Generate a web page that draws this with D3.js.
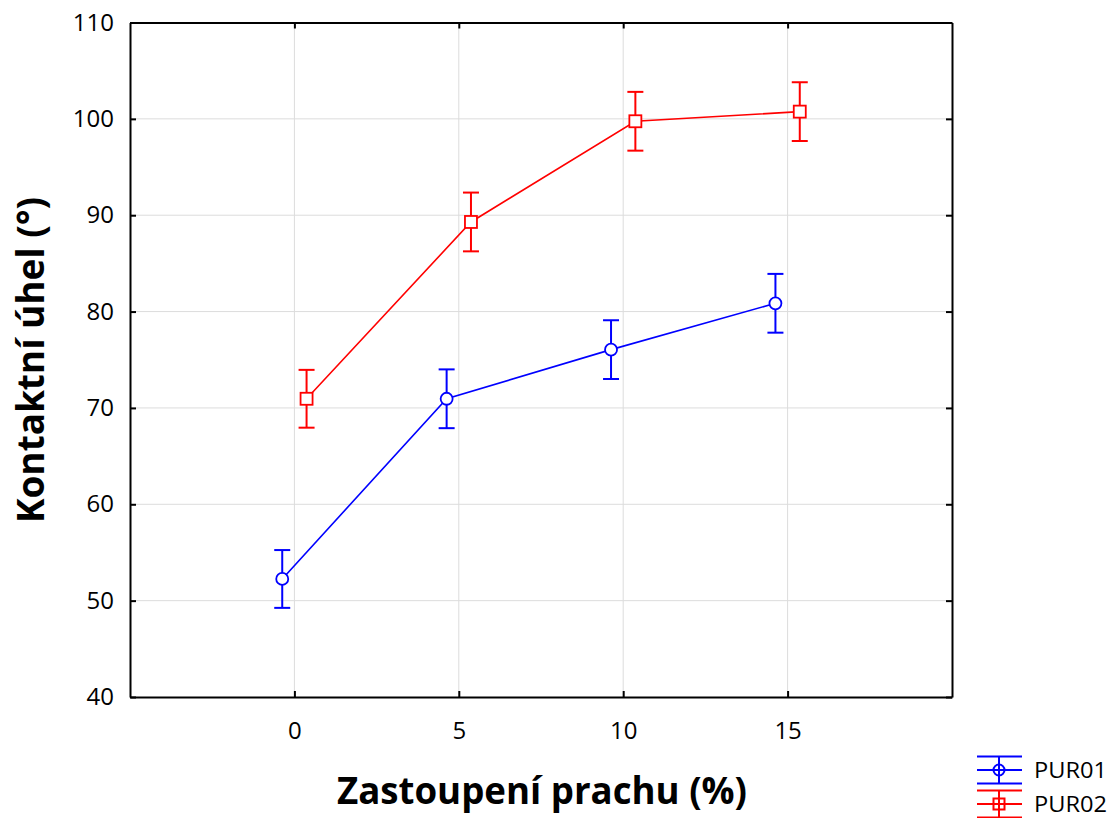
<!DOCTYPE html>
<html><head><meta charset="utf-8">
<script src="https://cdn.jsdelivr.net/npm/d3@7"></script>
<style>body{margin:0;background:#fff}svg{display:block}text{font-family:"Open Sans",sans-serif}</style>
</head><body><svg id="c" width="1114" height="818"></svg>
<script>
const xTicks = [0, 5, 10, 15];
const yTicks = [40, 50, 60, 70, 80, 90, 100, 110];
const dust = [0, 5, 10, 15];
const seriesNames = ["PUR01", "PUR02"];
const seriesColors = ["#0000ff", "#ff0000"];
const pur01Mean = [52.25, 70.95, 76.05, 80.86];
const pur01Err = [3.0, 3.05, 3.05, 3.05];
const pur02Mean = [70.95, 89.3, 99.75, 100.75];
const pur02Err = [3.0, 3.05, 3.05, 3.05];
const offsets = [-0.37, 0.37];

const svg = d3.select("#c");
const L = 130, R = 952, T = 22.5, B = 697;
const x = d3.scaleLinear().domain([-5, 20]).range([L, R]);
const y = d3.scaleLinear().domain([40, 110]).range([B, T]);

// grid
const g = svg.append("g");
g.selectAll(".gx").data(xTicks).join("line")
  .attr("x1", d => x(d)).attr("x2", d => x(d)).attr("y1", T).attr("y2", B)
  .attr("stroke", "#dcdcdc").attr("stroke-width", 1);
g.selectAll(".gy").data(yTicks.slice(1, -1)).join("line")
  .attr("y1", d => y(d)).attr("y2", d => y(d)).attr("x1", L).attr("x2", R)
  .attr("stroke", "#dcdcdc").attr("stroke-width", 1);

// axes
const ax = (axis, tr) => {
  const a = svg.append("g").attr("transform", tr).call(axis);
  a.attr("font-size", 24).attr("font-family", "'Open Sans',sans-serif");
  a.select(".domain").attr("stroke", "#000").attr("stroke-width", 2);
  a.selectAll(".tick line").attr("stroke", "#000").attr("stroke-width", 2);
  a.selectAll("text").attr("fill", "#000");
  return a;
};
ax(d3.axisBottom(x).tickValues(xTicks).tickSizeInner(-6).tickSizeOuter(0).tickPadding(25), `translate(0,${B})`);
ax(d3.axisTop(x).tickValues(xTicks).tickSizeInner(-6).tickSizeOuter(0).tickFormat(""), `translate(0,${T})`);
ax(d3.axisLeft(y).tickValues(yTicks).tickSizeInner(-6).tickSizeOuter(0).tickPadding(16), `translate(${L},0)`);
ax(d3.axisRight(y).tickValues(yTicks).tickSizeInner(-6).tickSizeOuter(0).tickFormat(""), `translate(${R},0)`);

// series
const series = [
  {name: seriesNames[0], color: seriesColors[0], mean: pur01Mean, err: pur01Err, off: offsets[0], sym: "circle"},
  {name: seriesNames[1], color: seriesColors[1], mean: pur02Mean, err: pur02Err, off: offsets[1], sym: "square"}
];
const cap = 8;
series.forEach(s => {
  const pts = dust.map((d, i) => ({x: d + s.off, m: s.mean[i], e: s.err[i]}));
  const sg = svg.append("g").attr("stroke", s.color).attr("fill", "none");
  sg.append("path").attr("d", d3.line().x(p => x(p.x)).y(p => y(p.m))(pts)).attr("stroke-width", 1.6);
  pts.forEach(p => {
    const cx = x(p.x);
    sg.append("line").attr("x1", cx).attr("x2", cx).attr("y1", y(p.m + p.e)).attr("y2", y(p.m - p.e)).attr("stroke-width", 2);
    [p.m + p.e, p.m - p.e].forEach(v => sg.append("line").attr("x1", cx - cap).attr("x2", cx + cap).attr("y1", y(v)).attr("y2", y(v)).attr("stroke-width", 2));
    if (s.sym === "circle") sg.append("circle").attr("cx", cx).attr("cy", y(p.m)).attr("r", 6).attr("fill", "#fff").attr("stroke-width", 1.8);
    else sg.append("rect").attr("x", cx - 6).attr("y", y(p.m) - 6).attr("width", 12).attr("height", 12).attr("fill", "#fff").attr("stroke-width", 1.8);
  });
});

// titles
svg.append("text").attr("x", 542).attr("y", 804).attr("text-anchor", "middle")
  .attr("textLength", 410).attr("lengthAdjust", "spacingAndGlyphs")
  .style("font-size", "37px").style("font-weight", "bold").text("Zastoupení prachu (%)");
svg.append("text").attr("transform", "translate(44,360) rotate(-90)").attr("text-anchor", "middle")
  .attr("textLength", 326).attr("lengthAdjust", "spacingAndGlyphs")
  .style("font-size", "37px").style("font-weight", "bold").text("Kontaktní úhel (°)");

// legend
const legY = [770, 804];
series.forEach((s, i) => {
  const lg = svg.append("g").attr("stroke", s.color).attr("fill", "none").attr("stroke-width", 2);
  const cy = legY[i];
  [-13.5, 0, 13.5].forEach(dy => lg.append("line").attr("x1", 977).attr("x2", 1022).attr("y1", cy + dy).attr("y2", cy + dy));
  lg.append("line").attr("x1", 999).attr("x2", 999).attr("y1", cy - 13.5).attr("y2", cy + 13.5);
  if (s.sym === "circle") lg.append("circle").attr("cx", 999).attr("cy", cy).attr("r", 5.5).attr("fill", "none");
  else lg.append("rect").attr("x", 993.5).attr("y", cy - 5.5).attr("width", 11).attr("height", 11).attr("fill", "none");
  svg.append("text").attr("x", 1034).attr("y", cy + 8).attr("textLength", 73).attr("lengthAdjust", "spacingAndGlyphs")
    .style("font-size", "22px").attr("fill", "#000").text(s.name);
});
</script></body></html>
